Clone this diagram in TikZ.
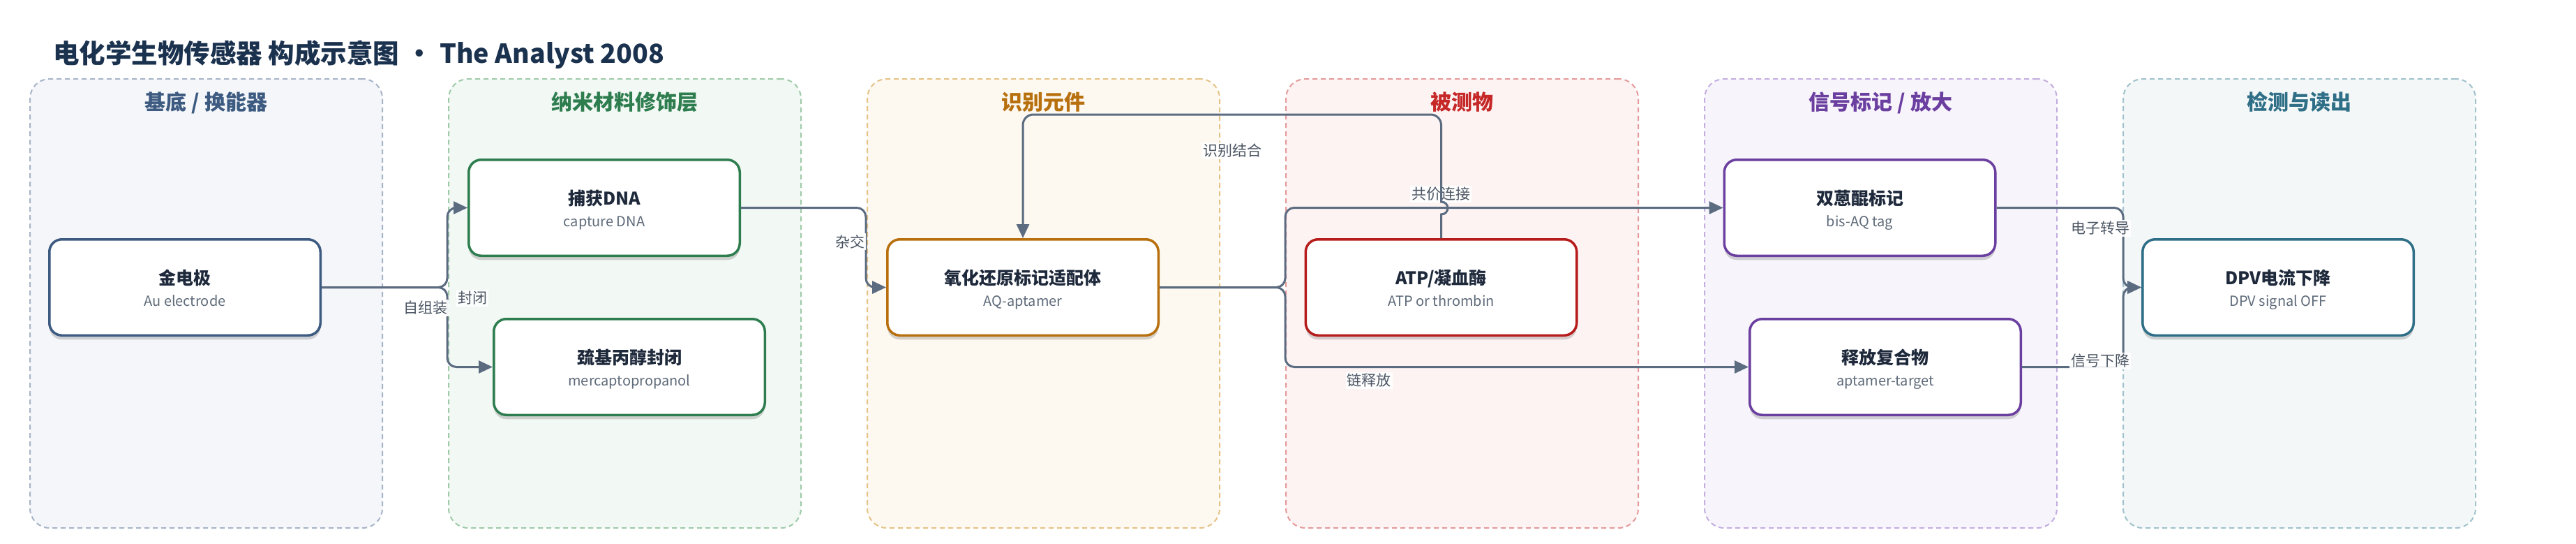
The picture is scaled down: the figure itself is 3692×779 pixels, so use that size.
\documentclass[tikz,border=0pt]{standalone}
\usepackage{fontspec}
\setmainfont{Noto Sans CJK SC}
\usetikzlibrary{arrows.meta,shadows}
\definecolor{titlecol}{HTML}{1B324F}
\definecolor{hA}{HTML}{3D5A80}\definecolor{fA}{HTML}{F4F6FA}\definecolor{bA}{HTML}{A7B4C8}
\definecolor{hB}{HTML}{2E7D4F}\definecolor{fB}{HTML}{F2F8F4}\definecolor{bB}{HTML}{9FCAA9}
\definecolor{hC}{HTML}{B7700D}\definecolor{fC}{HTML}{FDF8F0}\definecolor{bC}{HTML}{E5C386}
\definecolor{hD}{HTML}{C62828}\definecolor{fD}{HTML}{FDF3F3}\definecolor{bD}{HTML}{E59A9A}
\definecolor{hE}{HTML}{6B3FA0}\definecolor{fE}{HTML}{F7F4FB}\definecolor{bE}{HTML}{C3AEDF}
\definecolor{hF}{HTML}{2E6E86}\definecolor{fF}{HTML}{F3F7F8}\definecolor{bF}{HTML}{A0C2CC}
\definecolor{redbox}{HTML}{B71C1C}
\definecolor{txtdark}{HTML}{1E293B}
\definecolor{txtgray}{HTML}{5F6B7A}
\definecolor{labgray}{HTML}{4B5563}
\definecolor{edgecol}{HTML}{5B6B80}
\newcommand{\bx}[6]{%
  \node[box, draw=#4] (#1) at (#2,#3) {};
  \node[ttl, anchor=base] (#1t) at ([yshift=4pt]#1.center) {#5};
  \node[sub, anchor=base] (#1s) at ([yshift=-26.5pt]#1.center) {#6};
}
\begin{document}
\begin{tikzpicture}[x=1pt,y=-1pt,
  col/.style={dash pattern=on 7pt off 5pt, line width=2pt, rounded corners=28pt,
    minimum width=505pt, minimum height=643pt, inner sep=0pt},
  hdr/.style={font=\fontsize{30}{36}\selectfont\bfseries, anchor=base, inner sep=0pt},
  box/.style={fill=white, line width=3.5pt, rounded corners=18pt, minimum width=388.5pt,
    minimum height=137.5pt, inner sep=0pt,
    drop shadow={shadow xshift=0pt, shadow yshift=-6pt, opacity=0.16, fill=black}},
  ttl/.style={font=\fontsize{25}{30}\selectfont\bfseries, text=txtdark, inner sep=0pt},
  sub/.style={font=\fontsize{20}{24}\selectfont, text=txtgray, inner sep=0pt},
  edge/.style={draw=edgecol, line width=3pt, rounded corners=13pt,
    -{Triangle[length=20pt,width=18pt]}},
  elab/.style={font=\fontsize{21}{25}\selectfont, text=labgray, fill=white,
    fill opacity=0.92, text opacity=1, inner sep=2pt},
]
\useasboundingbox (0,0) rectangle (3692,779);
\fill[white] (0,0) rectangle (3692,779);
% title
\node[anchor=base west, inner sep=0pt, text=titlecol, font=\fontsize{37.5}{44}\selectfont\bfseries]
  (title) at (76,90) {电化学生物传感器 构成示意图\makebox[58pt]{•}The Analyst 2008};
% columns
\node[col, draw=bA, fill=fA] (c1) at (295.5,434.5) {};
\node[col, draw=bB, fill=fB] (c2) at (895.5,434.5) {};
\node[col, draw=bC, fill=fC] (c3) at (1495.5,434.5) {};
\node[col, draw=bD, fill=fD] (c4) at (2095.5,434.5) {};
\node[col, draw=bE, fill=fE] (c5) at (2695.5,434.5) {};
\node[col, draw=bF, fill=fF] (c6) at (3295.5,434.5) {};
\node[hdr, text=hA] (h1) at (295.5,157) {基底 / 换能器};
\node[hdr, text=hB] (h2) at (895.5,157) {纳米材料修饰层};
\node[hdr, text=hC] (h3) at (1495.5,157) {识别元件};
\node[hdr, text=hD] (h4) at (2095.5,157) {被测物};
\node[hdr, text=hE] (h5) at (2695.5,157) {信号标记 / 放大};
\node[hdr, text=hF] (h6) at (3295.5,157) {检测与读出};
% boxes
\bx{au}{265}{411.5}{hA}{金电极}{Au electrode}
\bx{cap}{866}{297.5}{hB}{捕获DNA}{capture DNA}
\bx{mer}{902}{525.5}{hB}{巯基丙醇封闭}{mercaptopropanol}
\bx{aq}{1466}{411.5}{hC}{氧化还原标记适配体}{AQ-aptamer}
\bx{atp}{2065.5}{411.5}{redbox}{ATP/凝血酶}{ATP or thrombin}
\bx{bis}{2665.5}{297.5}{hE}{双蒽醌标记}{bis-AQ tag}
\bx{rel}{2702}{525.5}{hE}{释放复合物}{aptamer-target}
\bx{dpv}{3265}{411.5}{hF}{DPV电流下降}{DPV signal OFF}
% edges
\draw[edge] (au.east) -- (641,411.5) |- (cap.west);
\draw[edge] (au.east) -- (641,411.5) |- (mer.west);
\draw[edge] (cap.east) -- (1241,297.5) |- (aq.west);
\draw[edge] (aq.east) -- (1842,411.5) |- (bis.west);
\draw[edge] (aq.east) -- (1842,411.5) |- (rel.west);
\draw[edge] (bis.east) -- (3043,297.5) |- (dpv.west);
\draw[edge] (rel.east) -- (3043,525.5) |- (dpv.west);
% edge labels
\node[elab] (l1) at (610,441) {自组装};
\node[elab] (l2) at (677,427) {封闭};
\node[elab] (l3) at (1218,346) {杂交};
\node[elab] (l4) at (1766,216) {识别结合};
\node[elab] (l5) at (2065,278) {共价连接};
\node[elab] (l6) at (1962,545) {链释放};
\node[elab] (l7) at (3010,327) {电子转导};
\node[elab] (l8) at (3010,517) {信号下降};
% recognition edge drawn last (with line hop)
\draw[edge] (atp.north) [sharp corners] -- (2065.5,307)
  .. controls (2078,307) and (2078,289) .. (2065.5,289)
  [rounded corners=15pt] -- (2065.5,164) -| (aq.north);
\end{tikzpicture}
\end{document}
